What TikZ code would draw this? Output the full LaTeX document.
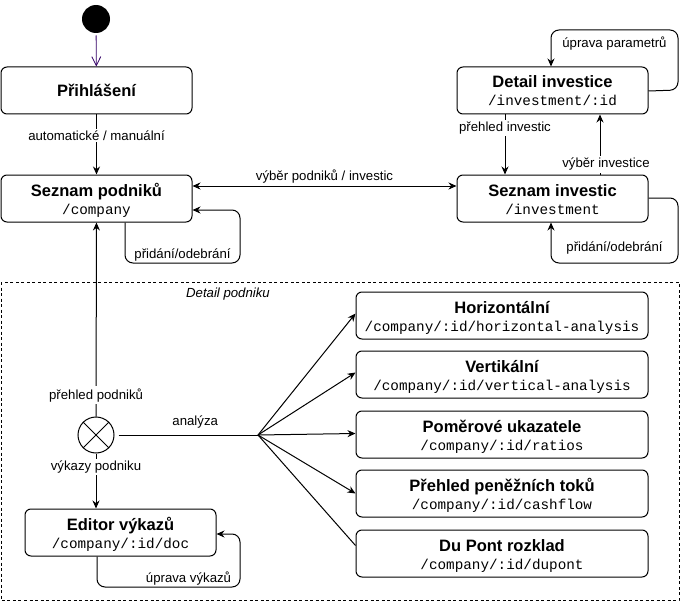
\documentclass[tikz,border=0pt]{standalone}
\usepackage{fontspec}
\setmainfont{Liberation Sans}
\setmonofont{Liberation Mono}
\usetikzlibrary{arrows.meta, calc}

\definecolor{initline}{RGB}{51,0,102}
\newcommand{\ttl}[1]{{\bfseries\fontsize{16.5}{20}\selectfont #1}}
\newcommand{\route}[1]{{\ttfamily #1}}
\newcommand{\twoline}[2]{\rule{0pt}{17pt}\ttl{#1}\\\route{#2}\rule[-4pt]{0pt}{4pt}}

\begin{document}
\begin{tikzpicture}[>={Stealth[length=8pt,width=7pt]}, x=1pt, y=-1pt,
    line width=1pt,
    state/.style={draw, rounded corners=6pt, minimum width=191pt, minimum height=47pt,
                  align=center, inner sep=0pt, font=\fontsize{14.3}{18}\selectfont},
    wide/.style={state, minimum width=292pt},
    lbl/.style={font=\fontsize{13.2}{15}\selectfont, inner sep=2pt},
    cut/.style={lbl, fill=white}]
  \useasboundingbox (0,0) rectangle (689,602);

  % Initial state
  \node[circle, fill=black, minimum size=28pt, inner sep=0pt] (start) at (96,19) {};
  \node[state] (login) at (96.5,90.5) {\ttl{Přihlášení}};
  \draw[->, initline, line width=0.8pt, shorten <=2pt,
        >={Straight Barb[length=9pt,width=9pt,line width=0.8pt]}]
    (start) -- (login);

  % Companies and investments
  \node[state] (companies) at (96.5,198.5) {\twoline{Seznam podniků}{/company}};
  \node[state] (investments) at (552.5,198.5) {\twoline{Seznam investic}{/investment}};
  \node[state] (detail) at (552.5,90.5) {\twoline{Detail investice}{/investment/:id}};

  \draw[->] (login) -- node[cut, pos=0.35] {automatické / manuální} (companies);
  \draw[<->] ([yshift=12.5pt]companies.east) --
    node[lbl, above, pos=0.5] {výběr podniků / investic} ([yshift=12.5pt]investments.west);
  \draw[->, rounded corners=8pt] ([xshift=28.5pt]companies.south) -- (125,263)
    -- node[lbl, above, inner sep=1pt] {přidání/odebrání} (240,263)
    -- (240,210) -- ([yshift=-11.5pt]companies.east);

  \draw[->] ([xshift=-47.5pt]detail.south) --
    node[cut, pos=0.23] {přehled investic} ([xshift=-47.5pt]investments.north);
  \draw[->] ([xshift=47.5pt]investments.north) --
    node[cut, pos=0.17, xshift=6pt] {výběr investice} ([xshift=47.5pt]detail.south);
  \draw[->, rounded corners=8pt] ([yshift=-0.5pt]detail.east) -- (678,90) -- (678,30)
    -- node[lbl, below, yshift=-4pt] {úprava parametrů} (551,30)
    -- ([xshift=-1.5pt]detail.north);
  \draw[->, rounded corners=8pt] ([yshift=0.5pt]investments.east) -- (678,198) -- (678,263)
    -- node[lbl, above, yshift=6pt] {přidání/odebrání} (551,263)
    -- ([xshift=-1.5pt]investments.south);

  % Detail podniku
  \draw[dashed, dash pattern=on 3pt off 2.5pt] (1,282) rectangle (679,600);
  \node[lbl, font=\fontsize{13.2}{15}\selectfont\itshape] (frame) at (228,294) {Detail podniku};

  \node[circle, draw, minimum size=36pt, inner sep=0pt] (choice) at (96,435) {};
  \draw (choice.north west) -- (choice.south east) (choice.north east) -- (choice.south west);
  \node[state] (editor) at (120.5,532.5) {\twoline{Editor výkazů}{/company/:id/doc}};

  \draw[->] (choice) -- node[cut, pos=0.11] {přehled podniků} (companies);
  \draw[->] (choice) -- node[cut, pos=0.25] {výkazy podniku} ([xshift=-24.5pt]editor.north);
  \draw[->, rounded corners=8pt] ([xshift=-23.5pt]editor.south) -- (97,587)
    -- node[lbl, above, pos=0.64, inner sep=1pt] {úprava výkazů} (240,587)
    -- (240,534) -- ([yshift=-1.5pt]editor.east);

  % Analyses
  \node[wide] (horiz) at (502,315.5) {\twoline{Horizontální}{/company/:id/horizontal-analysis}};
  \node[wide] (vert) at (502,374.5) {\twoline{Vertikální}{/company/:id/vertical-analysis}};
  \node[wide] (ratios) at (502,434.5) {\twoline{Poměrové ukazatele}{/company/:id/ratios}};
  \node[wide] (cash) at (502,493.5) {\twoline{Přehled peněžních toků}{/company/:id/cashflow}};
  \node[wide] (dupont) at (502,553.5) {\twoline{Du Pont rozklad}{/company/:id/dupont}};

  \coordinate (split) at (258,435);
  \draw ([xshift=4pt]choice.east) -- node[lbl, above, yshift=4pt, pos=0.55] {analýza} (split);
  \draw[->] (split) -- ([yshift=2pt]horiz.west);
  \draw[->] (split) -- ([yshift=2pt]vert.west);
  \draw[->] (split) -- ([yshift=1pt]ratios.west);
  \draw[->] (split) -- (cash.west);
  \draw (split) -- ([yshift=8pt]dupont.west);
\end{tikzpicture}
\end{document}
